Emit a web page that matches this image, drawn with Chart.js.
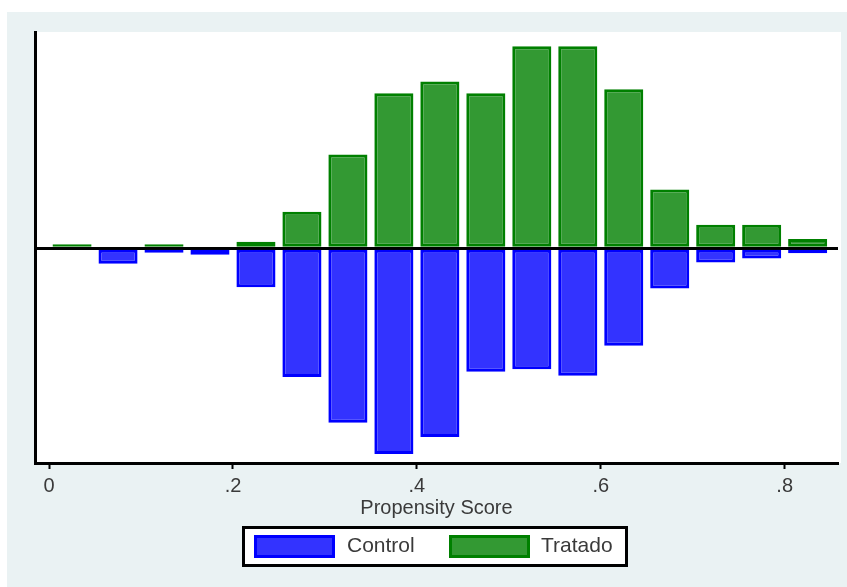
<!DOCTYPE html>
<html><head><meta charset="utf-8">
<script src="https://cdn.jsdelivr.net/npm/chart.js@4"></script>
<style>html,body{margin:0;padding:0;background:#fff;} canvas{display:block;}</style>
</head><body>
<canvas id="c" width="847" height="587"></canvas>
<script>
// Bin centres of the propensity score histogram (bin width 0.05)
const binCenters = [0.025, 0.075, 0.125, 0.175, 0.225, 0.275, 0.325, 0.375, 0.425,
                    0.475, 0.525, 0.575, 0.625, 0.675, 0.725, 0.775, 0.825];
const tratado = [0.003, 0, 0.003, 0, 0.005, 0.028, 0.072, 0.119, 0.128,
                 0.119, 0.155, 0.155, 0.122, 0.045, 0.018, 0.018, 0.007];
const control = [0, 0.012, 0.0035, 0.005, 0.030, 0.099, 0.134, 0.158, 0.145,
                 0.095, 0.093, 0.098, 0.075, 0.031, 0.011, 0.008, 0.004];
const xTickValues = [0, 0.2, 0.4, 0.6, 0.8];
const xTickLabels = ['0', '.2', '.4', '.6', '.8'];
const seriesNames = ['Control', 'Tratado'];
const xTitle = 'Propensity Score';

const FONT = '"Liberation Sans", Arial, sans-serif';
const TEXT = '#3a3a3a';

const bgPlugin = {
  id: 'bg',
  beforeDraw(chart) {
    const {ctx, chartArea: a} = chart;
    ctx.save();
    ctx.fillStyle = '#fff'; ctx.fillRect(0, 0, 847, 587);
    ctx.fillStyle = '#EAF2F3'; ctx.fillRect(7, 12, 840, 575);
    ctx.fillStyle = '#fff'; ctx.fillRect(a.left, a.top, a.right - a.left + 3, a.bottom - a.top);
    ctx.restore();
  }
};

const legendPlugin = {
  id: 'boxLegend',
  afterDraw(chart) {
    const ctx = chart.ctx;
    ctx.save();
    ctx.fillStyle = '#fff'; ctx.fillRect(243.5, 527.5, 383, 38);
    ctx.strokeStyle = '#000'; ctx.lineWidth = 3; ctx.strokeRect(243.5, 527.5, 383, 38);
    const pos = [{sx: 254, tx: 347}, {sx: 449, tx: 541}];
    chart.data.datasets.forEach((ds, i) => {
      const p = pos[i];
      ctx.fillStyle = ds.backgroundColor; ctx.fillRect(p.sx, 535, 81, 23);
      ctx.strokeStyle = ds.borderColor; ctx.lineWidth = 3;
      ctx.strokeRect(p.sx + 1.5, 536.5, 78, 20);
      ctx.fillStyle = TEXT; ctx.font = '21px ' + FONT;
      ctx.textBaseline = 'middle'; ctx.textAlign = 'left';
      ctx.fillText(ds.label, p.tx, 546);
    });
    ctx.restore();
  }
};

const barCommon = {borderWidth: 3, borderSkipped: false, grouped: false,
                   barPercentage: 0.85, categoryPercentage: 1};

new Chart(document.getElementById('c'), {
  type: 'bar',
  data: {
    datasets: [
      Object.assign({label: seriesNames[0], order: 1,
        data: binCenters.map((x, i) => ({x: x, y: -control[i]})),
        backgroundColor: '#3333FF', borderColor: '#0000FF'}, barCommon),
      Object.assign({label: seriesNames[1], order: 0,
        data: binCenters.map((x, i) => ({x: x, y: tratado[i]})),
        backgroundColor: '#339933', borderColor: '#008000'}, barCommon)
    ]
  },
  options: {
    responsive: false, devicePixelRatio: 1, animation: false,
    layout: {padding: {top: 32, right: 9, left: 0, bottom: 0}},
    plugins: {legend: {display: false}, tooltip: {enabled: false}},
    scales: {
      x: {
        type: 'linear', min: -0.0153, max: 0.858, offset: false,
        afterBuildTicks: s => { s.ticks = xTickValues.map(v => ({value: v})); },
        ticks: {callback: (v, i) => xTickLabels[i], font: {family: FONT, size: 20},
                color: TEXT, padding: 5, maxRotation: 0, autoSkip: false},
        grid: {display: true, drawOnChartArea: false, drawTicks: true, tickLength: 6,
               tickWidth: 2, tickColor: '#000', offset: false},
        border: {display: true, color: '#000', width: 3},
        title: {display: true, text: xTitle, font: {family: FONT, size: 20}, color: TEXT,
                padding: {top: 0, bottom: 67}},
        afterFit: s => { s.height = 124; }
      },
      y: {
        min: -0.165, max: 0.166,
        afterBuildTicks: s => { s.ticks = [{value: 0}]; },
        ticks: {display: false},
        grid: {color: '#000', lineWidth: 3, drawTicks: false},
        border: {display: true, color: '#000', width: 3},
        afterFit: s => { s.width = 35; }
      }
    }
  },
  plugins: [bgPlugin, legendPlugin]
});
</script>
</body></html>
